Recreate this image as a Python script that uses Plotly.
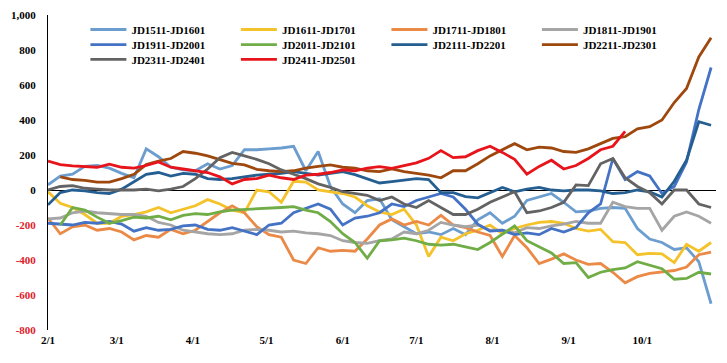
import plotly.graph_objects as go

# x grid: every 5 days from Feb 1 (month/day axis, dummy year)
dates = ["2023-02-01","2023-02-06","2023-02-11","2023-02-16","2023-02-21","2023-02-26",
         "2023-03-03","2023-03-08","2023-03-13","2023-03-18","2023-03-23","2023-03-28",
         "2023-04-02","2023-04-07","2023-04-12","2023-04-17","2023-04-22","2023-04-27",
         "2023-05-02","2023-05-07","2023-05-12","2023-05-17","2023-05-22","2023-05-27",
         "2023-06-01","2023-06-06","2023-06-11","2023-06-16","2023-06-21","2023-06-26",
         "2023-07-01","2023-07-06","2023-07-11","2023-07-16","2023-07-21","2023-07-26","2023-07-31",
         "2023-08-05","2023-08-10","2023-08-15","2023-08-20","2023-08-25","2023-08-30",
         "2023-09-04","2023-09-09","2023-09-14","2023-09-19","2023-09-24","2023-09-29",
         "2023-10-04","2023-10-09","2023-10-14","2023-10-19","2023-10-24","2023-10-29"]

tick_dates = ["2023-02-01","2023-03-01","2023-04-01","2023-05-01","2023-06-01",
              "2023-07-01","2023-08-01","2023-09-01","2023-10-01"]
tick_labels = ["2/1","3/1","4/1","5/1","6/1","7/1","8/1","9/1","10/1"]

y_ticks = [-800, -600, -400, -200, 0, 200, 400, 600, 800, 1000]

jd1511 = [30, 80, 90, 135, 140,  125, 95, 70, 235, 190,  130, 115, 110, 150, 120,
          140, 230, 230, 235, 240,  250, 110, 220, 20, -80,  -130, -60, -50, -170, -210,
          -250, -240, -255, -220, -255,  -170, -130, -190, -150, -60,  -40, -20, -70, -125, -120,
          -105, -100, -105, -220, -280,  -300, -340, -330, -410, -650]
jd1611 = [-10, -76, -100, -140, -190,  -190, -150, -140, -125, -100,  -130, -110, -90, -55, -80,
          -115, -130, 0, -10, -70,  50, 45, 0, -10, -20,  -40, -90, -125, -140, -110,
          -200, -380, -270, -290, -250,  -230, -200, -250, -220, -200,  -185, -180, -190, -220, -235,
          -225, -295, -300, -370, -362,  -365, -415, -310, -350, -300]
jd1711 = [-160, -250, -210, -200, -230,  -220, -240, -285, -260, -270,  -225, -250, -230, -180, -130,
          -90, -130, -210, -255, -270,  -400, -420, -330, -350, -345,  -350, -280, -200, -165, -200,
          -180, -200, -145, -200, -215,  -240, -260, -380, -260, -330,  -420, -395, -365, -400, -425,
          -420, -470, -530, -495, -476,  -467, -460, -440, -370, -355]
jd1811 = [-165, -160, -130, -120, -130,  -135, -140, -140, -150, -185,  -200, -230, -240, -250, -255,
          -250, -230, -225, -230, -240,  -235, -245, -250, -260, -290,  -300, -305, -290, -280, -240,
          -250, -230, -185, -200, -210,  -200, -230, -230, -245, -215,  -220, -205, -195, -180, -190,
          -190, -70, -95, -105, -105,  -230, -150, -125, -150, -190]
jd1911 = [-190, -195, -200, -185, -190,  -180, -195, -235, -215, -230,  -225, -205, -200, -225, -230,
          -215, -235, -255, -200, -190,  -130, -105, -80, -110, -200,  -160, -150, -130, -80, -95,
          -60, -40, -20, -40, -110,  -195, -235, -230, -255, -245,  -255, -220, -240, -215, -130,
          -80, 180, 60, 105, 80,  -20, 20, 160, 460, 700]
jd2011 = [None, -200, -100, -115, -155,  -190, -175, -155, -160, -150,  -170, -145, -135, -140, -125,
          -115, -112, -110, -105, -100,  -95, -115, -130, -180, -250,  -300, -390, -290, -285, -275,
          -290, -310, -315, -310, -325,  -340, -300, -250, -205, -290,  -325, -360, -420, -415, -500,
          -470, -455, -445, -410, -430,  -450, -510, -505, -470, -480]
jd2111 = [-85, -15, 0, -5, -15,  -20, 5, 50, 90, 100,  80, 95, 90, 65, 60,
          65, 75, 85, 90, 95,  105, 95, 85, 95, 105,  88, 65, 40, 48, 57,
          65, 60, -15, -15, -38,  -45, -15, 15, -10, 5,  15, 0, -5, 0, 0,
          -5, -20, -15, 0, -10,  -40, 50, 170, 390, 370]
jd2211 = [None, 75, 60, 55, 45,  45, 65, 90, 145, 165,  180, 220, 210, 195, 175,
          152, 143, 118, 110, 105,  110, 125, 135, 143, 130,  125, 110, 105, 120, 105,
          95, 85, 70, 110, 110,  150, 195, 230, 265, 230,  245, 240, 220, 215, 235,
          265, 295, 305, 350, 362,  400, 500, 580, 760, 870]
jd2311 = [0, 20, 25, 10, 5,  0, 0, 0, 5, -5,  5, 20, 65, 120, 185,
          215, 195, 175, 150, 115,  90, 65, 35, 15, -10,  -20, -30, -60, -40, -80,
          -100, -60, -100, -140, -140,  -110, -70, -40, -10, -130,  -120, -100, -70, 29, 25,
          150, 180, 70, 20, -15,  -80, 0, 0, -80, -100]
jd2411 = [165, 145, 138, 135, 130,  148, 130, 125, 140, 160,  130, 120, 110, 100, 75,
          35, 60, 65, 85, 70,  60, 85, 90, 100, 115,  110, 125, 133, 124, 140,
          155, 181, 225, 185, 190,  225, 250, 215, 175, 90,  135, 170, 120, 140, 180,
          230, 250, 335, None, None,  None, None, None, None, None]

series = [
    ("JD1511-JD1601", jd1511, "#6B9DCF", "legend"),
    ("JD1611-JD1701", jd1611, "#F4C22A", "legend"),
    ("JD1711-JD1801", jd1711, "#EB8A47", "legend"),
    ("JD1811-JD1901", jd1811, "#A5A5A5", "legend"),
    ("JD1911-JD2001", jd1911, "#4472C4", "legend2"),
    ("JD2011-JD2101", jd2011, "#70AD47", "legend2"),
    ("JD2111-JD2201", jd2111, "#255E91", "legend2"),
    ("JD2211-JD2301", jd2211, "#9E480E", "legend2"),
    ("JD2311-JD2401", jd2311, "#636363", "legend3"),
    ("JD2411-JD2501", jd2411, "#E8141C", "legend3"),
]

fig = go.Figure()
for name, vals, color, leg in series:
    assert len(vals) == len(dates)
    fig.add_trace(go.Scatter(x=dates, y=vals, name=name, mode="lines",
                             line=dict(color=color, width=2.8), legend=leg,
                             connectgaps=False, hoverinfo="skip"))

font_fam = "Liberation Serif"
y_text = []
for v in y_ticks:
    s = f"{v:,}"
    if v < 0:
        y_text.append(f"<span style='color:#E0202A'>{s}</span>")
    else:
        y_text.append(s)

leg_font = dict(family=font_fam, size=11, color="black", weight="bold")

def leg(y):
    return dict(orientation="h", x=0.056, y=y, xanchor="left", yanchor="top",
                entrywidth=99.5, entrywidthmode="pixels", itemwidth=36,
                font=leg_font, bgcolor="rgba(0,0,0,0)", borderwidth=0)

# page body has an 8px margin: figure is shifted by (8, 8) in the photographed page
fig.update_layout(
    width=719, height=355,
    margin=dict(l=40, r=11, t=7, b=33, autoexpand=False),
    paper_bgcolor="white", plot_bgcolor="white",
    font=dict(family=font_fam, size=11, color="black", weight="bold"),
    showlegend=True,
    legend=leg(1.0),
    legend2=leg(0.952),
    legend3=leg(0.905),
    xaxis=dict(type="date", range=["2023-02-01", "2023-10-31"], automargin=False,
               tickvals=tick_dates, ticktext=tick_labels,
               showgrid=False, showline=False, zeroline=False, ticks="",
               ticklabelstandoff=2,
               tickfont=dict(family=font_fam, size=11, color="black", weight="bold")),
    yaxis=dict(range=[-800, 1000], tickvals=y_ticks, ticktext=y_text, automargin=False,
               showgrid=False, zeroline=True, zerolinecolor="black", zerolinewidth=1,
               showline=True, linecolor="black", linewidth=1, ticks="",
               ticklabelstandoff=9,
               tickfont=dict(family=font_fam, size=11, color="black", weight="bold")),
)

fig.write_html("out.html")
